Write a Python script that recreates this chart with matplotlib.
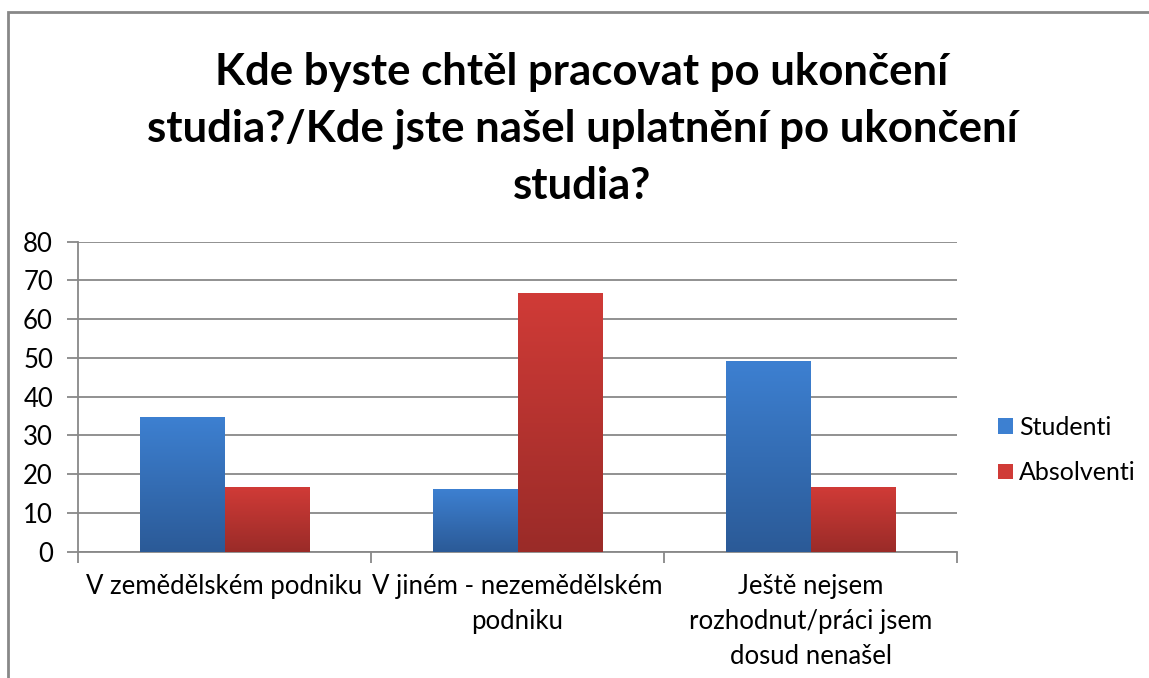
import numpy as np
import matplotlib
matplotlib.use('Agg')
import matplotlib.pyplot as plt
from matplotlib.colors import LinearSegmentedColormap
from matplotlib.patches import Rectangle, Patch

plt.rcParams['font.family'] = ['Lato', 'DejaVu Sans']

TITLE = 'Kde byste chtěl pracovat po ukončení\nstudia?/Kde jste našel uplatnění po ukončení\nstudia?'
KATEGORIE = ['V zemědělském podniku', 'V jiném - nezemědělském\npodniku',
             'Ještě nejsem\nrozhodnut/práci jsem\ndosud nenašel']
SERIE = ['Studenti', 'Absolventi']
STUDENTI = [34.8, 16.2, 49.2]
ABSOLVENTI = [16.7, 66.7, 16.7]
YTICKS = [0, 10, 20, 30, 40, 50, 60, 70, 80]

# barvy: (horní, dolní) pro přechod
BARVY = {'Studenti': ('#3D80D1', '#2B5A97'), 'Absolventi': ('#D03B37', '#9A2B28')}
GRID = '#888888'
FS = 18.5

fig = plt.figure(figsize=(11.49, 6.78), dpi=100)
fig.patch.set_facecolor('white')
# rámeček grafu (pravý a dolní okraj jsou oříznuté)
fig.add_artist(Rectangle((8 / 1149, -0.1), 1.2, 1 - 12 / 678 + 0.1, transform=fig.transFigure,
                         fill=False, edgecolor=GRID, lw=2))

ax = fig.add_axes([78 / 1149, 126.3 / 678, 879 / 1149, 310 / 678])
x = np.arange(len(KATEGORIE))
w = 0.287
grad = np.linspace(0, 1, 256).reshape(-1, 1)
for j, (nazev, vals) in enumerate(zip(SERIE, [STUDENTI, ABSOLVENTI])):
    off = (j - 0.5) * w
    bars = ax.bar(x + off, vals, width=w, color='none', label=nazev, zorder=3)
    cmap = LinearSegmentedColormap.from_list(nazev, [BARVY[nazev][1], BARVY[nazev][0]])
    for b in bars:
        x0, y0 = b.get_x(), b.get_y()
        im = ax.imshow(grad, cmap=cmap, origin='lower', aspect='auto',
                       extent=[x0, x0 + b.get_width(), y0, y0 + b.get_height()], zorder=3)
        im.set_clip_path(b)

ax.set_xlim(-0.5, 2.5)
ax.set_ylim(0, 80)
ax.set_yticks(YTICKS)
ax.set_yticklabels([str(v) for v in YTICKS], fontsize=FS)
ax.set_xticks(x)
ax.set_xticklabels(KATEGORIE, fontsize=FS, linespacing=1.5, va='top')
ax.set_xticks([-0.5, 0.5, 1.5, 2.5], minor=True)
ax.tick_params(axis='x', which='major', length=0, pad=16)
ax.tick_params(axis='x', which='minor', length=8, width=1.3, color=GRID, direction='out')
ax.tick_params(axis='y', length=8, width=1.3, color=GRID, pad=10)
ax.yaxis.grid(True, color=GRID, lw=1.3, zorder=0)
ax.set_axisbelow(True)
for s in ['top', 'right']:
    ax.spines[s].set_visible(False)
for s in ['left', 'bottom']:
    ax.spines[s].set_color(GRID); ax.spines[s].set_linewidth(1.3)

handles = [Patch(facecolor=BARVY[n][0], edgecolor='none', label=n) for n in SERIE]
fig.legend(handles=handles, loc='center left', bbox_to_anchor=(988 / 1149, 1 - 450 / 678),
           frameon=False, fontsize=18, handlelength=0.6, handleheight=0.6,
           handletextpad=0.25, labelspacing=0.9, borderaxespad=0)

fig.text(582 / 1149, 1 - 129 / 678, TITLE, ha='center', va='center', fontsize=31.5,
         fontweight='bold', linespacing=1.5)

fig.savefig('out.png', dpi=100, facecolor='white')
